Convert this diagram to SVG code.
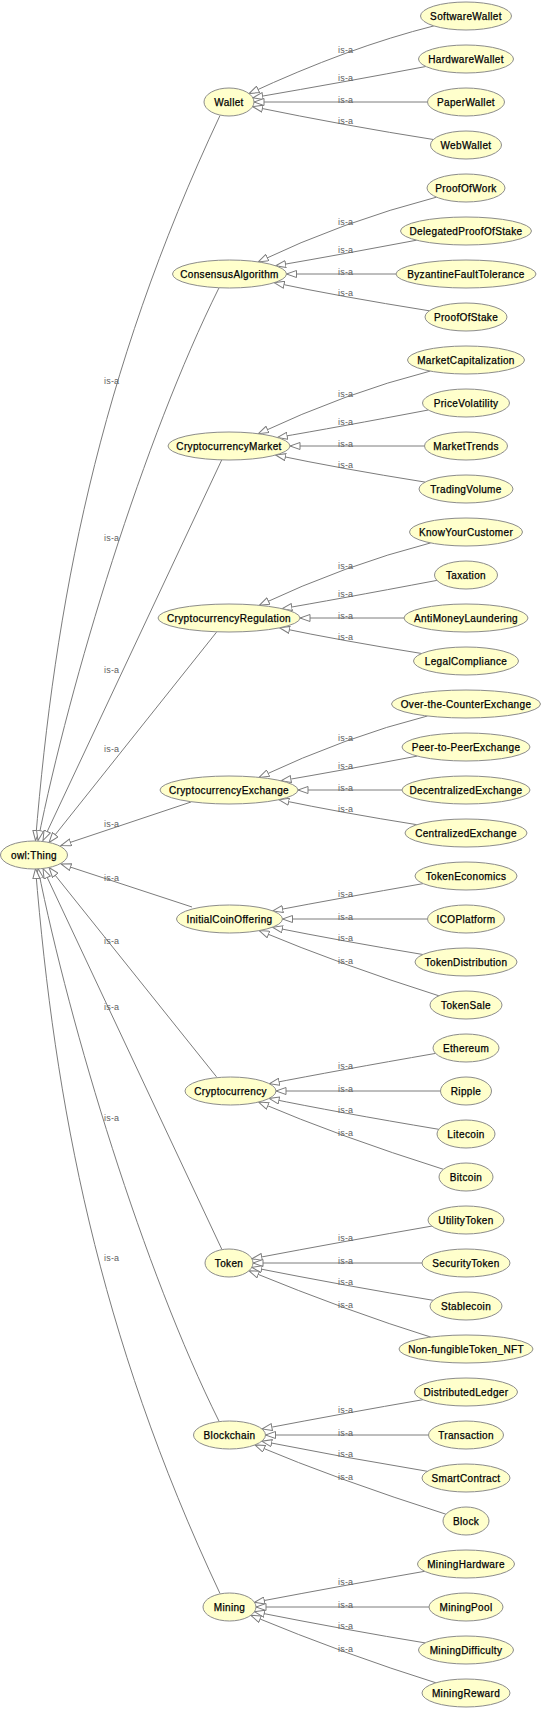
<svg xmlns="http://www.w3.org/2000/svg" width="549" height="1716" viewBox="0 0 549 1716">
<style>
.n ellipse{fill:#ffffcc;stroke:#8c8c8c;stroke-width:1}
.n text{font-family:"Liberation Sans",Arial,sans-serif;font-size:10px;letter-spacing:0.35px;fill:#000;stroke:#000;stroke-width:0.25px;text-anchor:middle}
.e path{fill:none;stroke:#7c7c7c;stroke-width:1;marker-end:url(#arr)}
.l text{font-family:"Liberation Sans",Arial,sans-serif;font-size:9px;letter-spacing:0.2px;fill:#606060}
</style>
<defs>
<marker id="arr" markerUnits="userSpaceOnUse" viewBox="0 0 11 8" markerWidth="11" markerHeight="8" refX="10.5" refY="4" orient="auto">
<path d="M0.5,0.5 L10.5,4 L0.5,7.5 Z" fill="#fff" stroke="#7c7c7c" stroke-width="1"/>
</marker>
</defs>
<rect x="0" y="0" width="549" height="1716" fill="#fff"/>
<g id="connectors" class="e">
<path d="M433.9,25.9 Q348.6,47.3 249,93.6"/>
<path d="M425.8,66.5 Q350.7,80.85 252.8,97.8"/>
<path d="M427.5,102 L254,102"/>
<path d="M433.4,139.5 Q347,125.95 252.6,106.6"/>
<path d="M436.5,197.15 Q342.6,221.5 258.3,261.9"/>
<path d="M416.6,240.2 Q343.85,254 275.7,265.8"/>
<path d="M396,274 L286.5,274"/>
<path d="M429.3,310.8 Q338.25,296.25 274.2,282.7"/>
<path d="M430.2,371.1 Q345.7,392.6 258.4,433.7"/>
<path d="M428.3,410 Q337.2,427.25 277.3,437.5"/>
<path d="M424.5,446 L290,446"/>
<path d="M425.15,482.1 Q339.6,468.45 275.6,455"/>
<path d="M430.7,542.9 Q345,564.9 259.3,605.3"/>
<path d="M436.9,580.4 Q330.6,600.45 281.9,608.7"/>
<path d="M404,618 L300,618"/>
<path d="M421.7,653.5 Q339.35,640.35 279.6,627.8"/>
<path d="M427.4,716 Q346.75,736.3 259.1,777.4"/>
<path d="M417.2,756.1 Q340.9,770.55 281,780.8"/>
<path d="M402,790 L298,790"/>
<path d="M416.9,824.7 Q342.1,812.8 278.9,799.7"/>
<path d="M423.2,883.6 Q342,897.75 272.8,910.9"/>
<path d="M427.5,919 L282.5,919"/>
<path d="M422.9,954.5 Q342.3,941.15 272.5,927.2"/>
<path d="M438.9,995.8 Q340.95,964.8 259.2,930.6"/>
<path d="M435.6,1053.4 Q337.55,1070.45 269.3,1083.7"/>
<path d="M440.5,1091 L276,1091"/>
<path d="M438.7,1129.3 Q336.1,1112.15 269.1,1098.4"/>
<path d="M443.4,1169.3 Q339,1136.35 258.55,1102"/>
<path d="M431.8,1226.1 Q348.15,1240.55 251.9,1258.8"/>
<path d="M422,1263 L253,1263"/>
<path d="M433.1,1300.3 Q347.55,1286.2 251.8,1267.3"/>
<path d="M430.8,1337.1 Q350.1,1312.1 249,1270.75"/>
<path d="M422.9,1399.7 Q347.55,1412.65 262,1429"/>
<path d="M428.5,1435 L265.5,1435"/>
<path d="M427.4,1471.3 Q345.4,1457.75 261.8,1441.2"/>
<path d="M445.9,1514.2 Q339.6,1480.45 254.9,1444.9"/>
<path d="M424.7,1571.3 Q350.4,1584.2 254.5,1602.35"/>
<path d="M429,1607 L256,1607"/>
<path d="M425.1,1642.9 Q350.25,1630.7 254.4,1611.75"/>
<path d="M435.9,1682.8 Q346.65,1654.95 250.8,1615.3"/>
<path d="M220,115.5 C97.8,375.5 55,604.5 35.5,840.5"/>
<path d="M219,287.8 C144,438.5 70,680.5 38,840.5"/>
<path d="M221.7,460 L43,840.5"/>
<path d="M216.5,632.2 L49,842.5"/>
<path d="M191,802 L61,845.5"/>
<path d="M192,907 L61,864"/>
<path d="M216.5,1076.8 L49,867.5"/>
<path d="M221.7,1249 L43,868.5"/>
<path d="M219,1421.2 C144,1270.5 70,1028.5 38,868.5"/>
<path d="M220,1593.5 C97.8,1333.5 55,1104.5 35.5,868.5"/>
</g>
<g id="edge-labels" class="l">
<text x="104" y="384">is-a</text>
<text x="104" y="540.5">is-a</text>
<text x="104" y="672.5">is-a</text>
<text x="104" y="751.5">is-a</text>
<text x="104" y="827">is-a</text>
<text x="104" y="880.5">is-a</text>
<text x="104" y="943.5">is-a</text>
<text x="104" y="1009.5">is-a</text>
<text x="104" y="1121">is-a</text>
<text x="104" y="1261">is-a</text>
<text x="338" y="53">is-a</text><text x="338" y="81">is-a</text><text x="338" y="102.5">is-a</text><text x="338" y="124">is-a</text>
<text x="338" y="225">is-a</text><text x="338" y="253">is-a</text><text x="338" y="274.5">is-a</text><text x="338" y="296">is-a</text>
<text x="338" y="397">is-a</text><text x="338" y="425">is-a</text><text x="338" y="446.5">is-a</text><text x="338" y="468">is-a</text>
<text x="338" y="569">is-a</text><text x="338" y="597">is-a</text><text x="338" y="618.5">is-a</text><text x="338" y="640">is-a</text>
<text x="338" y="741">is-a</text><text x="338" y="769">is-a</text><text x="338" y="790.5">is-a</text><text x="338" y="812">is-a</text>
<text x="338" y="897">is-a</text><text x="338" y="919.5">is-a</text><text x="338" y="940.5">is-a</text><text x="338" y="963.5">is-a</text>
<text x="338" y="1069">is-a</text><text x="338" y="1091.5">is-a</text><text x="338" y="1112.5">is-a</text><text x="338" y="1135.5">is-a</text>
<text x="338" y="1241">is-a</text><text x="338" y="1263.5">is-a</text><text x="338" y="1284.5">is-a</text><text x="338" y="1307.5">is-a</text>
<text x="338" y="1413">is-a</text><text x="338" y="1435.5">is-a</text><text x="338" y="1456.5">is-a</text><text x="338" y="1479.5">is-a</text>
<text x="338" y="1585">is-a</text><text x="338" y="1607.5">is-a</text><text x="338" y="1628.5">is-a</text><text x="338" y="1651.5">is-a</text>
</g>
<g id="node-owlThing" class="n"><ellipse cx="34" cy="855" rx="33.5" ry="14"/><text x="34" y="858.5">owl:Thing</text></g>
<g id="node-Wallet" class="n"><ellipse cx="229" cy="102" rx="25" ry="14"/><text x="229" y="105.5">Wallet</text></g>
<g id="node-SoftwareWallet" class="n"><ellipse cx="466" cy="16" rx="45.5" ry="14"/><text x="466" y="19.5">SoftwareWallet</text></g>
<g id="node-HardwareWallet" class="n"><ellipse cx="466" cy="59" rx="47.5" ry="14"/><text x="466" y="62.5">HardwareWallet</text></g>
<g id="node-PaperWallet" class="n"><ellipse cx="466" cy="102" rx="38.5" ry="14"/><text x="466" y="105.5">PaperWallet</text></g>
<g id="node-WebWallet" class="n"><ellipse cx="466" cy="145" rx="35.5" ry="14"/><text x="466" y="148.5">WebWallet</text></g>
<g id="node-ConsensusAlgorithm" class="n"><ellipse cx="229.5" cy="274" rx="57" ry="14"/><text x="229.5" y="277.5">ConsensusAlgorithm</text></g>
<g id="node-ProofOfWork" class="n"><ellipse cx="466" cy="188" rx="39" ry="14"/><text x="466" y="191.5">ProofOfWork</text></g>
<g id="node-DelegatedProofOfStake" class="n"><ellipse cx="466" cy="231" rx="65.5" ry="14"/><text x="466" y="234.5">DelegatedProofOfStake</text></g>
<g id="node-ByzantineFaultTolerance" class="n"><ellipse cx="466" cy="274" rx="70" ry="14"/><text x="466" y="277.5">ByzantineFaultTolerance</text></g>
<g id="node-ProofOfStake" class="n"><ellipse cx="466" cy="317" rx="41" ry="14"/><text x="466" y="320.5">ProofOfStake</text></g>
<g id="node-CryptocurrencyMarket" class="n"><ellipse cx="229" cy="446" rx="61" ry="14"/><text x="229" y="449.5">CryptocurrencyMarket</text></g>
<g id="node-MarketCapitalization" class="n"><ellipse cx="466" cy="360" rx="58.5" ry="14"/><text x="466" y="363.5">MarketCapitalization</text></g>
<g id="node-PriceVolatility" class="n"><ellipse cx="466" cy="403" rx="43.5" ry="14"/><text x="466" y="406.5">PriceVolatility</text></g>
<g id="node-MarketTrends" class="n"><ellipse cx="466" cy="446" rx="41.5" ry="14"/><text x="466" y="449.5">MarketTrends</text></g>
<g id="node-TradingVolume" class="n"><ellipse cx="466" cy="489" rx="47" ry="14"/><text x="466" y="492.5">TradingVolume</text></g>
<g id="node-CryptocurrencyRegulation" class="n"><ellipse cx="229" cy="618" rx="71" ry="14"/><text x="229" y="621.5">CryptocurrencyRegulation</text></g>
<g id="node-KnowYourCustomer" class="n"><ellipse cx="466" cy="532" rx="56.5" ry="14"/><text x="466" y="535.5">KnowYourCustomer</text></g>
<g id="node-Taxation" class="n"><ellipse cx="466" cy="575" rx="31.5" ry="14"/><text x="466" y="578.5">Taxation</text></g>
<g id="node-AntiMoneyLaundering" class="n"><ellipse cx="466" cy="618" rx="62" ry="14"/><text x="466" y="621.5">AntiMoneyLaundering</text></g>
<g id="node-LegalCompliance" class="n"><ellipse cx="466" cy="661" rx="52.5" ry="14"/><text x="466" y="664.5">LegalCompliance</text></g>
<g id="node-CryptocurrencyExchange" class="n"><ellipse cx="229" cy="790" rx="69" ry="14"/><text x="229" y="793.5">CryptocurrencyExchange</text></g>
<g id="node-OverTheCounterExchange" class="n"><ellipse cx="466" cy="704" rx="74.5" ry="14"/><text x="466" y="707.5">Over-the-CounterExchange</text></g>
<g id="node-PeerToPeerExchange" class="n"><ellipse cx="466" cy="747" rx="64" ry="14"/><text x="466" y="750.5">Peer-to-PeerExchange</text></g>
<g id="node-DecentralizedExchange" class="n"><ellipse cx="466" cy="790" rx="64" ry="14"/><text x="466" y="793.5">DecentralizedExchange</text></g>
<g id="node-CentralizedExchange" class="n"><ellipse cx="466" cy="833" rx="61" ry="14"/><text x="466" y="836.5">CentralizedExchange</text></g>
<g id="node-InitialCoinOffering" class="n"><ellipse cx="229.5" cy="919" rx="53" ry="14"/><text x="229.5" y="922.5">InitialCoinOffering</text></g>
<g id="node-TokenEconomics" class="n"><ellipse cx="466" cy="876" rx="51" ry="14"/><text x="466" y="879.5">TokenEconomics</text></g>
<g id="node-ICOPlatform" class="n"><ellipse cx="466" cy="919" rx="38.5" ry="14"/><text x="466" y="922.5">ICOPlatform</text></g>
<g id="node-TokenDistribution" class="n"><ellipse cx="466" cy="962" rx="51" ry="14"/><text x="466" y="965.5">TokenDistribution</text></g>
<g id="node-TokenSale" class="n"><ellipse cx="466" cy="1005" rx="36" ry="14"/><text x="466" y="1008.5">TokenSale</text></g>
<g id="node-Cryptocurrency" class="n"><ellipse cx="230.5" cy="1091" rx="45.5" ry="14"/><text x="230.5" y="1094.5">Cryptocurrency</text></g>
<g id="node-Ethereum" class="n"><ellipse cx="466" cy="1048" rx="33" ry="14"/><text x="466" y="1051.5">Ethereum</text></g>
<g id="node-Ripple" class="n"><ellipse cx="466" cy="1091" rx="25.5" ry="14"/><text x="466" y="1094.5">Ripple</text></g>
<g id="node-Litecoin" class="n"><ellipse cx="466" cy="1134" rx="29" ry="14"/><text x="466" y="1137.5">Litecoin</text></g>
<g id="node-Bitcoin" class="n"><ellipse cx="466" cy="1177" rx="27" ry="14"/><text x="466" y="1180.5">Bitcoin</text></g>
<g id="node-Token" class="n"><ellipse cx="229" cy="1263" rx="24" ry="14"/><text x="229" y="1266.5">Token</text></g>
<g id="node-UtilityToken" class="n"><ellipse cx="466" cy="1220" rx="38" ry="14"/><text x="466" y="1223.5">UtilityToken</text></g>
<g id="node-SecurityToken" class="n"><ellipse cx="466" cy="1263" rx="44" ry="14"/><text x="466" y="1266.5">SecurityToken</text></g>
<g id="node-Stablecoin" class="n"><ellipse cx="466" cy="1306" rx="36" ry="14"/><text x="466" y="1309.5">Stablecoin</text></g>
<g id="node-NonFungibleTokenNFT" class="n"><ellipse cx="466" cy="1349" rx="67" ry="14"/><text x="466" y="1352.5">Non-fungibleToken_NFT</text></g>
<g id="node-Blockchain" class="n"><ellipse cx="229.5" cy="1435" rx="36" ry="14"/><text x="229.5" y="1438.5">Blockchain</text></g>
<g id="node-DistributedLedger" class="n"><ellipse cx="466" cy="1392" rx="51.5" ry="14"/><text x="466" y="1395.5">DistributedLedger</text></g>
<g id="node-Transaction" class="n"><ellipse cx="466" cy="1435" rx="37.5" ry="14"/><text x="466" y="1438.5">Transaction</text></g>
<g id="node-SmartContract" class="n"><ellipse cx="466" cy="1478" rx="44" ry="14"/><text x="466" y="1481.5">SmartContract</text></g>
<g id="node-Block" class="n"><ellipse cx="466" cy="1521" rx="23" ry="14"/><text x="466" y="1524.5">Block</text></g>
<g id="node-Mining" class="n"><ellipse cx="229.5" cy="1607" rx="26.5" ry="14"/><text x="229.5" y="1610.5">Mining</text></g>
<g id="node-MiningHardware" class="n"><ellipse cx="466" cy="1564" rx="48.5" ry="14"/><text x="466" y="1567.5">MiningHardware</text></g>
<g id="node-MiningPool" class="n"><ellipse cx="466" cy="1607" rx="37" ry="14"/><text x="466" y="1610.5">MiningPool</text></g>
<g id="node-MiningDifficulty" class="n"><ellipse cx="466" cy="1650" rx="47.5" ry="14"/><text x="466" y="1653.5">MiningDifficulty</text></g>
<g id="node-MiningReward" class="n"><ellipse cx="466" cy="1693" rx="44" ry="14"/><text x="466" y="1696.5">MiningReward</text></g>
</svg>
